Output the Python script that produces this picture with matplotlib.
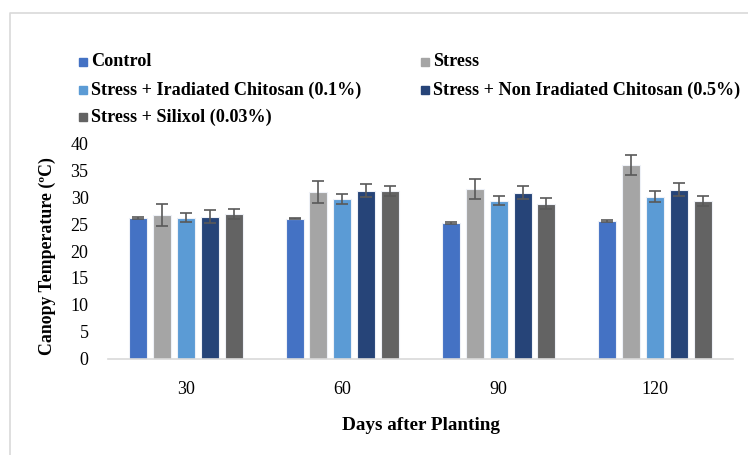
import numpy as np
import matplotlib.pyplot as plt
from matplotlib.patches import Rectangle
from matplotlib.lines import Line2D

days = ['30', '60', '90', '120']
series = ['Control', 'Stress', 'Stress + Iradiated Chitosan (0.1%)',
          'Stress + Non Iradiated Chitosan (0.5%)', 'Stress + Silixol (0.03%)']
colors = ['#4472C4', '#A5A5A5', '#5B9BD5', '#264478', '#636363']

control = [26.2, 26.0, 25.2, 25.6]
stress = [26.7, 31.0, 31.5, 36.0]
irradiated = [26.2, 29.7, 29.3, 30.1]
non_irradiated = [26.4, 31.2, 30.8, 31.4]
silixol = [26.8, 31.2, 28.8, 29.3]

control_err = [0.2, 0.15, 0.15, 0.15]
stress_err = [2.0, 2.0, 1.9, 1.9]
irradiated_err = [0.85, 0.95, 0.85, 0.95]
non_irradiated_err = [1.2, 1.2, 1.2, 1.15]
silixol_err = [0.95, 0.9, 0.95, 0.95]

values = [control, stress, irradiated, non_irradiated, silixol]
errors = [control_err, stress_err, irradiated_err, non_irradiated_err, silixol_err]

serif = ['Liberation Serif', 'DejaVu Serif']

fig = plt.figure(figsize=(7.48, 4.55), dpi=100)
ax = fig.add_axes([108 / 748, 1 - 358.7 / 455, (733 - 108) / 748, (358.7 - 143.3) / 455])

x = np.arange(len(days))
pitch = 0.153
width = 0.115
for i, (vals, errs) in enumerate(zip(values, errors)):
    pos = x + (i - 2) * pitch
    ax.bar(pos, vals, width, color=colors[i], edgecolor='#eef1f7', linewidth=0.8, zorder=2)
    ax.errorbar(pos, vals, yerr=errs, fmt='none', ecolor='#595959', elinewidth=1.2,
                capsize=4, capthick=1.2, zorder=3)

ax.set_xlim(-0.5, 3.5)
ax.set_ylim(0, 40)
ax.set_yticks(np.arange(0, 41, 5))
ax.set_xticks(x)
ax.set_xticklabels(days, fontfamily=serif, fontsize=13)
ax.set_yticklabels([str(v) for v in range(0, 41, 5)], fontfamily=serif, fontsize=13)
ax.tick_params(length=0, pad=14, axis='y')
ax.tick_params(length=0, pad=16, axis='x')
for s in ['top', 'right', 'left']:
    ax.spines[s].set_visible(False)
ax.spines['bottom'].set_color('#d9d9d9')
ax.spines['bottom'].set_linewidth(1.2)

fig.text(47 / 748, 1 - 256 / 455, 'Canopy Temperature (ºC)', rotation=90, ha='center',
         va='center', fontfamily=serif, fontweight='bold', fontsize=12.8)
fig.text(421 / 748, 1 - 426 / 455, 'Days after Planting', ha='center', va='center',
         fontfamily=serif, fontweight='bold', fontsize=13.8)

# legend laid out by hand in two columns
leg_pos = [(79, 62), (421, 62), (79, 90), (421, 90), (79, 117)]
for (lx, ly), name, c in zip(leg_pos, series, colors):
    fig.patches.append(Rectangle((lx / 748, 1 - (ly + 4) / 455), 8 / 748, 8 / 455,
                                 transform=fig.transFigure, color=c))
    fig.text((lx + 12) / 748, 1 - ly / 455, name, ha='left', va='center',
             fontfamily=serif, fontweight='bold', fontsize=13.1)

# chart border (top and left edges visible in the crop)
fig.lines.append(Line2D([9.5 / 748, 9.5 / 748, 1], [0, 1 - 12.5 / 455, 1 - 12.5 / 455],
                        transform=fig.transFigure, color='#d9d9d9', linewidth=1.2))

fig.savefig('out.png', dpi=100)
